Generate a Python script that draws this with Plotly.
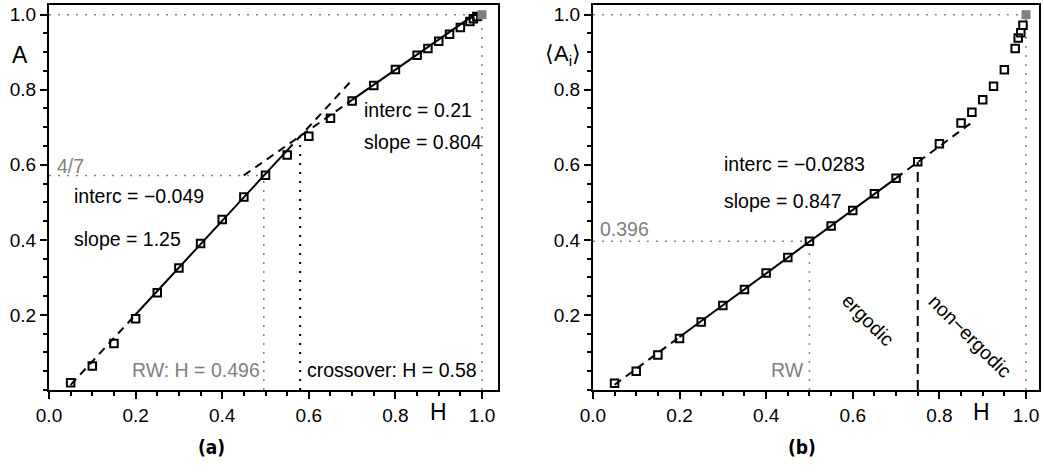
import numpy as np
import plotly.graph_objects as go

# ---- panel (a): A versus H ----
H_a = [0.05, 0.10, 0.15, 0.20, 0.25, 0.30, 0.35, 0.40, 0.45, 0.50, 0.55, 0.60,
       0.65, 0.70, 0.75, 0.80, 0.85, 0.875, 0.90, 0.925, 0.95, 0.972, 0.98, 0.988]
A_a = [0.019, 0.064, 0.124, 0.190, 0.259, 0.325, 0.390, 0.454, 0.514, 0.572, 0.626, 0.676,
       0.724, 0.770, 0.811, 0.854, 0.892, 0.910, 0.929, 0.948, 0.966, 0.982, 0.989, 0.995]
fit_low_a = dict(interc=-0.049, slope=1.25)
fit_high_a = dict(interc=0.21, slope=0.804)
rw_H_a = 0.496
rw_A_a = 4 / 7
cross_H = 0.58

# ---- panel (b): <A_i> versus H ----
H_b = [0.05, 0.10, 0.15, 0.20, 0.25, 0.30, 0.35, 0.40, 0.45, 0.50, 0.55, 0.60,
       0.65, 0.70, 0.75, 0.80, 0.85, 0.875, 0.90, 0.925, 0.95, 0.975, 0.982, 0.988, 0.993]
A_b = [0.018, 0.050, 0.093, 0.137, 0.181, 0.225, 0.268, 0.312, 0.353, 0.396, 0.437, 0.478,
       0.523, 0.564, 0.608, 0.656, 0.711, 0.740, 0.773, 0.809, 0.853, 0.910, 0.938, 0.952, 0.972]
fit_b = dict(interc=-0.0283, slope=0.847)
rw_H_b = 0.5
rw_A_b = 0.396
ergodic_H = 0.75
ergodic_A = 0.608

# point at H = 1 (filled grey)
end_H = [1.0]
end_A = [1.0]

xticks = [0.0, 0.2, 0.4, 0.6, 0.8, 1.0]
xticktext = ["0.0", "0.2", "0.4", "0.6", "0.8", "1.0"]
yticks = [0.2, 0.4, 0.6, 0.8, 1.0]
yticktext = ["0.2", "0.4", "0.6", "0.8", "1.0"]
minor_vals = [round(0.05 * i, 2) for i in range(21)]

FONT = "Liberation Sans, Arial, sans-serif"
GREY = "#808080"
DASH = "8px,6px"
DOT = "2px,7px"

fig = go.Figure()


def fit_segment(fit, h0, h1, dash, xa, ya):
    hs = np.array([h0, h1])
    fig.add_trace(go.Scatter(x=hs, y=fit["interc"] + fit["slope"] * hs, mode="lines",
                             line=dict(color="black", width=2, dash=dash),
                             xaxis=xa, yaxis=ya, hoverinfo="skip", showlegend=False))


def guide(xs, ys, color, dash, xa, ya, width=1.5):
    fig.add_trace(go.Scatter(x=xs, y=ys, mode="lines",
                             line=dict(color=color, width=width, dash=dash),
                             xaxis=xa, yaxis=ya, hoverinfo="skip", showlegend=False))


# guides panel (a)
guide([0, 1], [1, 1], GREY, DOT, "x", "y")
guide([1, 1], [0, 1], GREY, DOT, "x", "y")
guide([0, rw_H_a], [rw_A_a, rw_A_a], GREY, DOT, "x", "y")
guide([rw_H_a, rw_H_a], [0, rw_A_a], GREY, DOT, "x", "y")
cross_A = fit_high_a["interc"] + fit_high_a["slope"] * cross_H
guide([cross_H, cross_H], [0, cross_A], "black", DOT, "x", "y", width=2)

# fits panel (a)
fit_segment(fit_low_a, 0.05, 0.20, DASH, "x", "y")
fit_segment(fit_low_a, 0.20, 0.55, "solid", "x", "y")
fit_segment(fit_low_a, 0.55, 0.70, DASH, "x", "y")
fit_segment(fit_high_a, 0.45, 0.70, DASH, "x", "y")
fit_segment(fit_high_a, 0.70, 0.99, "solid", "x", "y")

# guides panel (b)
guide([0, 1], [1, 1], GREY, DOT, "x2", "y2")
guide([1, 1], [0, 1], GREY, DOT, "x2", "y2")
guide([0, rw_H_b], [rw_A_b, rw_A_b], GREY, DOT, "x2", "y2")
guide([rw_H_b, rw_H_b], [0, rw_A_b], GREY, DOT, "x2", "y2")
guide([ergodic_H, ergodic_H], [0, ergodic_A], "black", "10px,6px", "x2", "y2", width=2)

# fit panel (b)
fit_segment(fit_b, 0.05, 0.20, DASH, "x2", "y2")
fit_segment(fit_b, 0.20, 0.70, "solid", "x2", "y2")
fit_segment(fit_b, 0.70, 0.875, DASH, "x2", "y2")

# markers
for xs, ys, xa, ya in [(H_a, A_a, "x", "y"), (H_b, A_b, "x2", "y2")]:
    fig.add_trace(go.Scatter(x=xs, y=ys, mode="markers", xaxis=xa, yaxis=ya,
                             marker=dict(symbol="square-open", size=7.5, color="black",
                                         line=dict(width=2, color="black")),
                             showlegend=False))
    fig.add_trace(go.Scatter(x=end_H, y=end_A, mode="markers", xaxis=xa, yaxis=ya,
                             marker=dict(symbol="square", size=9, color=GREY,
                                         line=dict(width=0)),
                             showlegend=False))

axis_common = dict(showline=True, linewidth=2, linecolor="black", mirror=True,
                   ticks="outside", ticklen=7, tickwidth=2, tickcolor="black",
                   showgrid=False, zeroline=False,
                   tickfont=dict(family=FONT, size=19, color="black"),
                   minor=dict(tickvals=minor_vals, ticks="outside", ticklen=4,
                              tickwidth=1.5, tickcolor="black"))

fig.update_layout(
    width=1044, height=472,
    margin=dict(l=49, r=3, t=3, b=82),
    plot_bgcolor="white", paper_bgcolor="white",
    xaxis=dict(domain=[0, 0.4536], range=[0, 1.037], anchor="y",
               tickvals=xticks, ticktext=xticktext, **axis_common),
    yaxis=dict(domain=[0, 1], range=[0, 1.0257], anchor="x",
               tickvals=yticks, ticktext=yticktext, **axis_common),
    xaxis2=dict(domain=[0.5494, 1], range=[0, 1.03], anchor="y2",
                tickvals=xticks, ticktext=xticktext, **axis_common),
    yaxis2=dict(domain=[0, 1], range=[0, 1.0257], anchor="x2",
                tickvals=yticks, ticktext=yticktext, **axis_common),
)


def note(text, x, y, xref, yref, size=19.5, color="black", xanchor="left",
         angle=0, family=FONT):
    fig.add_annotation(text=text, x=x, y=y, xref=xref, yref=yref, showarrow=False,
                       xanchor=xanchor, yanchor="middle", textangle=angle,
                       font=dict(family=family, size=size, color=color))


# panel (a) labels
note("4/7", 0.014, 0.596, "x", "y", color=GREY)
note("interc = \u22120.049", 0.053, 0.517, "x", "y")
note("slope = 1.25", 0.053, 0.403, "x", "y")
note("interc = 0.21", 0.7235, 0.747, "x", "y")
note("slope = 0.804", 0.7235, 0.660, "x", "y")
note("RW: H = 0.496", 0.491, 0.053, "x", "y", color=GREY, xanchor="right")
note("crossover: H = 0.58", 0.592, 0.053, "x", "y")
note("A", -0.0292, 0.8708, "paper", "paper", size=23, xanchor="center")
note("H", 0.3931, -0.0568, "paper", "paper", size=23, xanchor="center")
note("<b>(a)</b>", 0.1643, -0.1473, "paper", "paper", size=19, xanchor="center",
     family="DejaVu Sans Condensed, DejaVu Sans, sans-serif")

# panel (b) labels
note("0.396", 0.0115, 0.429, "x2", "y2", color=GREY)
note("interc = \u22120.0283", 0.297, 0.602, "x2", "y2")
note("slope = 0.847", 0.297, 0.504, "x2", "y2")
note("RW", 0.493, 0.053, "x2", "y2", color=GREY, xanchor="right")
note("ergodic", 0.636, 0.186, "x2", "y2", xanchor="center", angle=45)
note("non\u2212ergodic", 0.871, 0.143, "x2", "y2", xanchor="center", angle=45)
note("\u27e8A<sub>i</sub>\u27e9", 0.5192, 0.8708, "paper", "paper", size=22, xanchor="center")
note("H", 0.9415, -0.0568, "paper", "paper", size=23, xanchor="center")
note("<b>(b)</b>", 0.7611, -0.1473, "paper", "paper", size=19, xanchor="center",
     family="DejaVu Sans Condensed, DejaVu Sans, sans-serif")

fig.write_html("out.html")
